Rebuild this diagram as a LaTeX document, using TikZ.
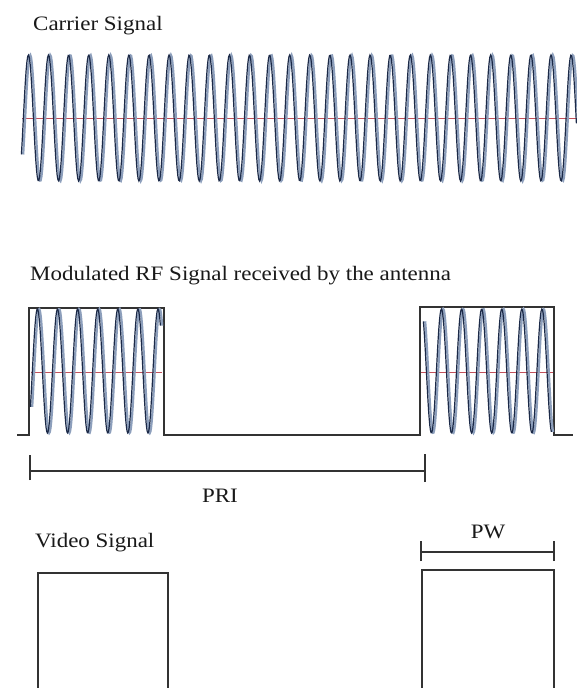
\documentclass[tikz,border=0pt]{standalone}
\usepackage{fontspec}
\setmainfont{Liberation Serif}
\definecolor{wavedark}{HTML}{1C2A48}
\definecolor{wavelight}{HTML}{8D9FBC}
\definecolor{axisred}{HTML}{C2505A}
\definecolor{outlinegray}{HTML}{333333}
\begin{document}
\begin{tikzpicture}[x=1pt,y=-1pt,
  lbl/.style={inner sep=0pt, anchor=base west, font=\fontsize{20.5}{23}\selectfont, text=black!90},
  clbl/.style={inner sep=0pt, anchor=base, font=\fontsize{20.5}{23}\selectfont, text=black!90},
  lightwave/.style={draw=wavelight, line width=2.2pt},
  darkwave/.style={draw=wavedark, line width=1.2pt},
  zeroaxis/.style={draw=axisred, line width=1pt},
  envelope/.style={draw=outlinegray, line width=1.3pt},
  videobox/.style={draw=outlinegray, line width=1.5pt},
  dimline/.style={draw=outlinegray, line width=1.3pt}]
\useasboundingbox (0,0) rectangle (577,688);
\fill[white] (0,0) rectangle (577,688);

% ---------- Carrier signal ----------
\node[lbl] (carrierlbl) at (33,30) {\scalebox{1.12}[1]{Carrier Signal}};
\draw[zeroaxis] (22,118) -- (577,118);
\draw[lightwave] plot[domain=22:577, samples=700] (\x+1.2, {118-63*cos(17.910448*(\x-29))});
\draw[darkwave] plot[domain=22:577, samples=700] (\x-0.6, {118-63*cos(17.910448*(\x-29))});

% ---------- Modulated RF signal ----------
\node[lbl] (rflbl) at (30,280) {\scalebox{1.12}[1]{Modulated RF Signal received by the antenna}};
\draw[envelope] (17,435) -- (29,435) -- (29,308) -- (164,308) -- (164,435)
  -- (420,435) -- (420,307) -- (554,307) -- (554,435) -- (573,435);
\draw[zeroaxis] (31,372) -- (162,372);
\draw[zeroaxis] (421,372) -- (553,372);
\draw[lightwave] plot[domain=31:161, samples=200] (\x+1.2, {371-62*cos(17.910448*(\x-38))});
\draw[darkwave] plot[domain=31:161, samples=200] (\x-0.6, {371-62*cos(17.910448*(\x-38))});
\draw[lightwave] plot[domain=424:552, samples=200] (\x+1.2, {371+62*cos(17.910448*(\x-432))});
\draw[darkwave] plot[domain=424:552, samples=200] (\x-0.6, {371+62*cos(17.910448*(\x-432))});

% ---------- PRI ----------
\coordinate (priL) at (30,471);
\coordinate (priR) at (425,471);
\draw[dimline] (priL) -- (priR);
\draw[dimline] ([yshift=-9pt]priL) -- ([yshift=16pt]priL);
\draw[dimline] ([yshift=-11pt]priR) -- ([yshift=17pt]priR);
\node[clbl] (prilbl) at (220,502) {\scalebox{1.12}[1]{PRI}};

% ---------- Video signal ----------
\node[lbl] (videolbl) at (35,547) {\scalebox{1.12}[1]{Video Signal}};
\draw[videobox] (38,688) -- (38,573) -- (168,573) -- (168,688);
\draw[videobox] (422,688) -- (422,570) -- (554,570) -- (554,688);

% ---------- PW ----------
\coordinate (pwL) at (421,552);
\coordinate (pwR) at (554,552);
\draw[dimline] (pwL) -- (pwR);
\draw[dimline] ([yshift=-9pt]pwL) -- ([yshift=11pt]pwL);
\draw[dimline] ([yshift=-9pt]pwR) -- ([yshift=11pt]pwR);
\node[clbl] (pwlbl) at (488,538) {\scalebox{1.12}[1]{PW}};
\end{tikzpicture}
\end{document}
